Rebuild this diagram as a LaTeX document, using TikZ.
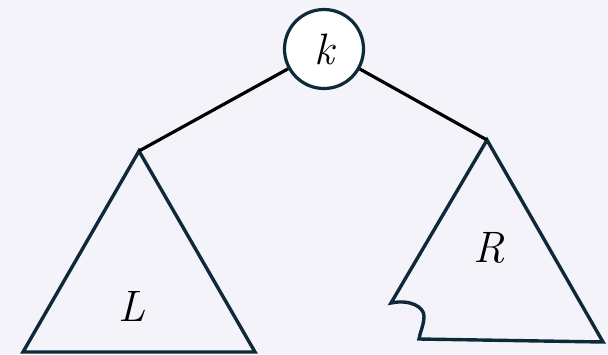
\documentclass[tikz,border=0pt]{standalone}
\usepackage{fontspec}
\setmainfont{Latin Modern Roman}
\begin{document}
\definecolor{bg}{HTML}{F5F3FA}
\definecolor{navy}{HTML}{0E2A38}
\begin{tikzpicture}[x=1pt,y=-1pt,
  keynode/.style={circle,draw=navy,line width=3.2pt,fill=white,minimum size=79pt,inner sep=0pt,font=\fontsize{44}{44}\selectfont\itshape},
  tri/.style={draw=navy,line width=3.4pt,line join=miter},
  edge/.style={draw=black,line width=3.2pt},
  lbl/.style={font=\fontsize{44}{44}\selectfont\itshape}]
\fill[bg] (0,0) rectangle (608,354);
\useasboundingbox (0,0) rectangle (608,354);
\node[keynode] (k) at (324,49) {k};
\coordinate (aL) at (139,151);
\coordinate (aR) at (487,140);
\draw[tri] (aL) -- (255,352) -- (23,352) -- cycle;
\draw[tri] (aR) -- (603,342) -- (419,339)
  .. controls (420,332) and (424,325) .. (424,316)
  .. controls (424,307) and (410,299) .. (391,303) -- cycle;
\draw[edge] (k) -- (aL);
\draw[edge] (k) -- (aR);
\node[lbl] (L) at (132,306) {L};
\node[lbl] (R) at (489,248) {R};
\end{tikzpicture}
\end{document}
